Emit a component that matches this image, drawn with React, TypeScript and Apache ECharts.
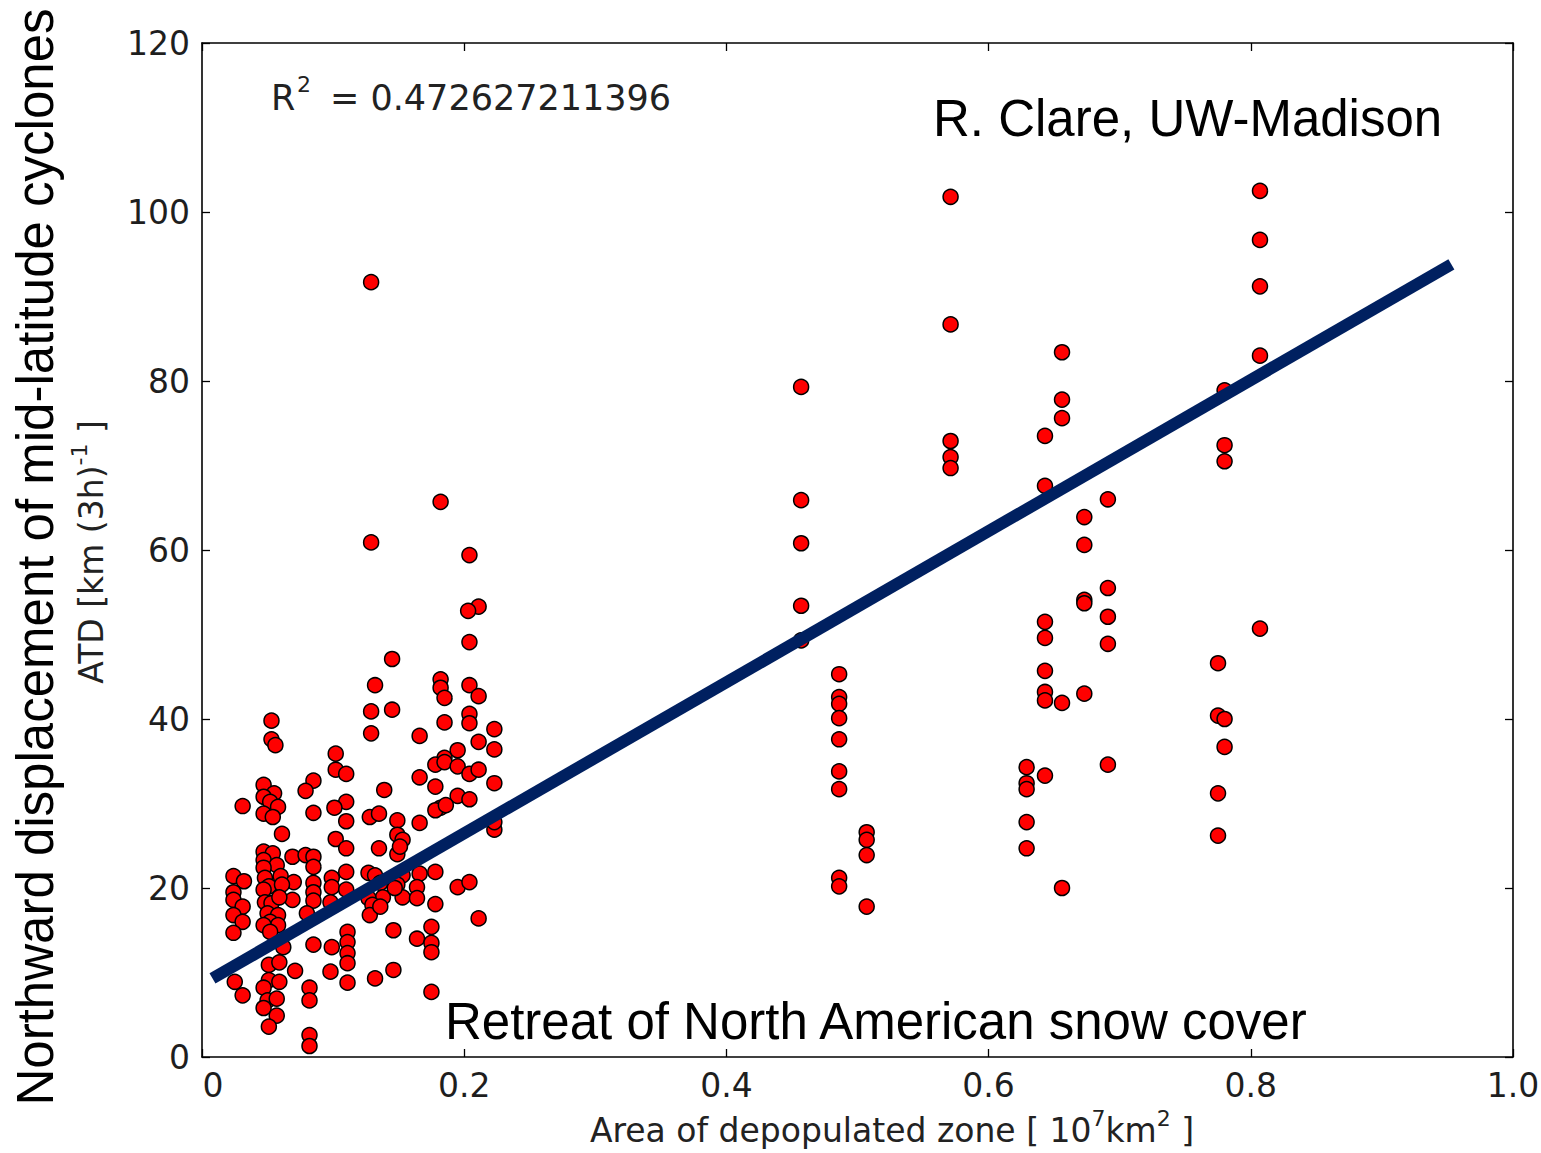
import React, { useEffect, useRef } from "react";
import * as echarts from "echarts";

// Tick labels
const xTicks = [0, 0.2, 0.4, 0.6, 0.8, 1.0];
const yTicks = [0, 20, 40, 60, 80, 100, 120];

// Low-area cluster (area [10^7 km^2], ATD [km (3h)^-1])
const lowAreaX = [
  0.129, 0.182, 0.129, 0.204, 0.211, 0.203, 0.204, 0.145, 0.132, 0.182,
  0.182, 0.185, 0.204, 0.211, 0.129, 0.145, 0.204, 0.204, 0.185, 0.223,
  0.053, 0.053, 0.056, 0.129, 0.166, 0.211, 0.223, 0.195, 0.102, 0.185,
  0.102, 0.110, 0.085, 0.079, 0.047, 0.055, 0.047, 0.052, 0.031, 0.058,
  0.047, 0.054, 0.085, 0.110, 0.101, 0.110, 0.061, 0.102, 0.110, 0.047,
  0.054, 0.069, 0.079, 0.085, 0.047, 0.057, 0.085, 0.047, 0.024, 0.032,
  0.048, 0.060, 0.070, 0.051, 0.061, 0.085, 0.099, 0.110, 0.099, 0.110,
  0.024, 0.047, 0.085, 0.024, 0.048, 0.053, 0.069, 0.059, 0.085, 0.031,
  0.098, 0.024, 0.031, 0.024, 0.050, 0.058, 0.052, 0.058, 0.047, 0.080,
  0.052, 0.062, 0.085, 0.099, 0.111, 0.111, 0.111, 0.111, 0.098, 0.111,
  0.051, 0.059, 0.071, 0.051, 0.059, 0.025, 0.031, 0.047, 0.050, 0.057,
  0.047, 0.057, 0.051, 0.082, 0.082, 0.082, 0.082, 0.178, 0.185, 0.195,
  0.204, 0.211, 0.166, 0.223, 0.178, 0.139, 0.195, 0.204, 0.182, 0.178,
  0.186, 0.128, 0.135, 0.149, 0.166, 0.149, 0.153, 0.135, 0.149, 0.223,
  0.223, 0.151, 0.127, 0.132, 0.153, 0.166, 0.178, 0.136, 0.149, 0.164,
  0.138, 0.127, 0.153, 0.164, 0.195, 0.204, 0.178, 0.130, 0.147, 0.128,
  0.136, 0.211, 0.146, 0.164, 0.175, 0.175, 0.175, 0.146, 0.132, 0.175,
];
const lowAreaY = [
  91.7, 65.7, 60.9, 59.4, 53.3, 52.8, 49.1, 47.1, 44.0, 44.7,
  43.7, 42.5, 44.0, 42.7, 40.9, 41.1, 40.6, 39.5, 39.6, 38.8,
  39.8, 37.6, 36.9, 38.3, 38.0, 37.3, 36.4, 36.3, 35.9, 35.4,
  34.0, 33.5, 32.7, 31.5, 32.2, 31.2, 30.8, 30.2, 29.7, 29.6,
  28.8, 28.4, 28.9, 30.2, 29.5, 27.9, 26.4, 25.8, 24.7, 24.3,
  24.1, 23.7, 23.9, 23.7, 23.3, 22.7, 22.5, 22.4, 21.4, 20.8,
  21.2, 21.4, 20.7, 20.2, 20.4, 20.6, 21.2, 21.9, 20.1, 19.8,
  19.5, 19.8, 19.5, 18.6, 18.3, 18.2, 18.6, 18.9, 18.5, 17.8,
  18.3, 16.8, 16.0, 14.7, 17.0, 16.8, 16.0, 15.6, 15.6, 17.0,
  14.8, 13.0, 13.3, 13.0, 14.8, 13.6, 12.3, 11.1, 10.1, 8.8,
  10.9, 11.2, 10.2, 9.1, 8.9, 8.9, 7.3, 8.2, 6.7, 6.9,
  5.8, 4.9, 3.6, 8.2, 6.7, 2.6, 1.3, 34.6, 34.9, 34.4,
  33.5, 34.0, 33.1, 32.4, 32.0, 31.6, 30.9, 30.5, 29.5, 29.2,
  29.8, 28.4, 28.8, 28.0, 27.7, 26.3, 25.7, 24.7, 24.0, 26.9,
  27.8, 24.9, 21.8, 21.5, 21.5, 21.7, 21.9, 20.6, 20.4, 20.1,
  18.9, 18.8, 18.9, 18.8, 20.1, 20.7, 18.1, 18.0, 20.0, 16.8,
  17.8, 16.4, 15.0, 14.0, 15.4, 13.5, 12.4, 10.3, 9.3, 7.7,
];

// High-area columns: one area value per column, several ATD values each
const columnAreas = [0.457, 0.486, 0.507, 0.571, 0.629, 0.643, 0.656, 0.673, 0.691, 0.775, 0.780, 0.807];
const columnATD = [
  [79.3, 65.9, 60.8, 53.4, 49.3],
  [45.3, 42.6, 41.8, 40.1, 37.6, 33.8, 31.7, 21.2, 20.2],
  [26.6, 25.7, 23.9, 17.8],
  [101.8, 86.7, 72.9, 71.0, 69.7],
  [34.3, 32.4, 31.7, 27.8, 24.7],
  [73.5, 67.6, 51.5, 49.6, 45.7, 43.2, 42.2, 33.3],
  [83.4, 77.8, 75.6, 41.9, 20.0],
  [63.9, 60.6, 54.1, 53.7, 43.0],
  [66.0, 55.5, 52.1, 48.9, 34.6],
  [46.6, 40.4, 31.2, 26.2],
  [78.9, 72.4, 70.5, 40.0, 36.7],
  [102.5, 96.7, 91.2, 83.0, 50.7],
];

// Regression line end points
const fitX = [0.008, 0.953];
const fitY = [9.3, 93.8];

const r2Text = "= 0.472627211396";

export default function App() {
  const ref = useRef<HTMLDivElement>(null);

  useEffect(() => {
    if (!ref.current) return;
    const chart = echarts.init(ref.current, undefined, { renderer: "svg" });

    const points: number[][] = lowAreaX.map((x, i) => [x, lowAreaY[i]]);
    columnAreas.forEach((x, i) => columnATD[i].forEach((y) => points.push([x, y])));
    const fitData = fitX.map((x, i) => [x, fitY[i]]);

    const tickFont = { fontFamily: "DejaVu Sans", fontSize: 33, color: "#1e1e1e" };
    const axisLine = { show: true, onZero: false, lineStyle: { color: "#000", width: 1.6 } };
    const axisTick = { show: true, inside: true, length: 8, lineStyle: { color: "#000", width: 1.3 } };

    const main = { fontFamily: "DejaVu Sans", fontSize: 33, fill: "#222", lineHeight: 40, verticalAlign: "bottom" };
    const sup = { fontFamily: "DejaVu Sans", fontSize: 22, fill: "#222", lineHeight: 40, verticalAlign: "top" };

    chart.setOption({
      animation: false,
      backgroundColor: "#fff",
      grid: { left: 202, top: 43, width: 1311, height: 1014, containLabel: false, outerBoundsMode: "none" },
      xAxis: [
        {
          type: "value", min: 0, max: 1, interval: 0.2, position: "bottom",
          axisLine, axisTick, splitLine: { show: false },
          axisLabel: {
            ...tickFont, margin: 12,
            formatter: (v: number) => {
              const t = xTicks.find((k) => Math.abs(k - v) < 1e-9);
              return t === 0 ? "{z|0}" : (t ?? v).toFixed(1);
            },
            rich: { z: { fontFamily: "DejaVu Sans", fontSize: 33, color: "#1e1e1e", padding: [0, 0, 0, 22] } },
          },
        },
        {
          type: "value", min: 0, max: 1, interval: 0.2, position: "top",
          axisLine, axisTick, splitLine: { show: false }, axisLabel: { show: false },
        },
      ],
      yAxis: [
        {
          type: "value", min: 0, max: 120, interval: 20, position: "left",
          axisLine, axisTick, splitLine: { show: false },
          axisLabel: { ...tickFont, margin: 12, formatter: (v: number) => String(yTicks.find((k) => k === v) ?? v) },
        },
        {
          type: "value", min: 0, max: 120, interval: 20, position: "right",
          axisLine, axisTick, splitLine: { show: false }, axisLabel: { show: false },
        },
      ],
      series: [
        {
          type: "scatter", data: points, symbol: "circle", symbolSize: 15, z: 2,
          itemStyle: { color: "#ff0000", borderColor: "#000", borderWidth: 1.5, opacity: 1 },
        },
        {
          type: "line", data: fitData, symbol: "none", z: 3,
          lineStyle: { color: "#002060", width: 12, cap: "butt" },
        },
      ],
      graphic: [
        { type: "text", x: 271, y: 98, style: { text: "R", font: "35px 'DejaVu Sans'", fill: "#222", textAlign: "left", textVerticalAlign: "middle" } },
        { type: "text", x: 297, y: 84, style: { text: "2", font: "22px 'DejaVu Sans'", fill: "#222", textAlign: "left", textVerticalAlign: "middle" } },
        { type: "text", x: 330, y: 98, style: { text: r2Text, font: "35px 'DejaVu Sans'", fill: "#222", textAlign: "left", textVerticalAlign: "middle" } },
        { type: "text", x: 933, y: 118, style: { text: "R. Clare, UW-Madison", font: "51px 'Liberation Sans'", fill: "#000", textAlign: "left", textVerticalAlign: "middle" } },
        { type: "text", x: 445, y: 1021, style: { text: "Retreat of North American snow cover", font: "51px 'Liberation Sans'", fill: "#000", textAlign: "left", textVerticalAlign: "middle" } },
        { type: "text", x: 35, y: 557, rotation: Math.PI / 2, style: { text: "Northward displacement of mid-latitude cyclones", font: "51px 'Liberation Sans'", fill: "#000", textAlign: "center", textVerticalAlign: "middle" } },
        {
          type: "text", x: 892, y: 1127,
          style: {
            text: "{m|Area of depopulated zone [ 10}{s|7}{m|km}{s|2}{m| ]}",
            rich: { m: main, s: sup },
            textAlign: "center", textVerticalAlign: "middle",
          },
        },
        {
          type: "text", x: 88, y: 552, rotation: Math.PI / 2,
          style: {
            text: "{m|ATD [km (3h)}{s|-1}{m| ]}",
            rich: { m: main, s: sup },
            textAlign: "center", textVerticalAlign: "middle",
          },
        },
      ],
    });

    return () => chart.dispose();
  }, []);

  return <div ref={ref} style={{ position: "absolute", left: 0, top: 0, width: 1541, height: 1153 }} />;
}
